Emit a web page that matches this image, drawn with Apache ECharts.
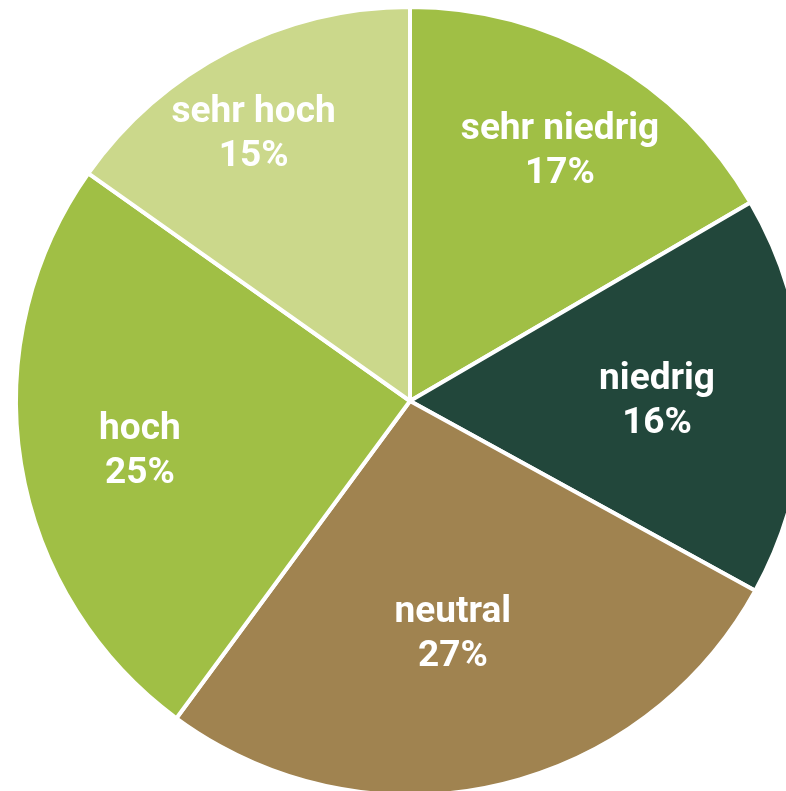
<!DOCTYPE html>
<html>
<head>
<meta charset="utf-8">
<script src="https://cdn.jsdelivr.net/npm/echarts@6/dist/echarts.min.js"></script>
<style>
  html, body { margin: 0; padding: 0; background: #fff; }
  #main { width: 786px; height: 791px; }
</style>
</head>
<body>
<div id="main"></div>
<script>
// slices, clockwise from 12 o'clock
const categories = ['sehr niedrig', 'niedrig', 'neutral', 'hoch', 'sehr hoch'];
const shares = [16.6, 16.4, 27.1, 24.7, 15.2];
const colors = ['#a0bf45', '#22473b', '#a08350', '#a0bf45', '#cbd88b'];
// label placement: fraction of radius, and small turn (deg) off the slice middle
const labelFrac = [0.744, 0.627, 0.596, 0.696, 0.79];
const labelTurn = [0.9, 0.3, 1.9, -0.8, -2.8];

const cx = 410, cy = 401, R = 394;
const total = shares.reduce((a, b) => a + b, 0);

var chart = echarts.init(document.getElementById('main'));

var option = {
  animation: false,
  series: [{
    type: 'pie',
    center: [cx, cy],
    radius: R,
    startAngle: 90,
    clockwise: true,
    itemStyle: { borderColor: '#fff', borderWidth: 4 },
    label: {
      show: true,
      position: 'inside',
      color: '#fff',
      fontFamily: 'Roboto',
      fontWeight: 'bold',
      fontSize: 37,
      lineHeight: 44,
      formatter: p => p.name + '\n' + Math.round(p.value / total * 100) + '%'
    },
    labelLine: { show: false },
    emphasis: { disabled: true },
    labelLayout: function (params) {
      const i = params.dataIndex;
      let cum = 0;
      for (let k = 0; k < i; k++) cum += shares[k];
      const a = (cum + shares[i] / 2) / total * 2 * Math.PI + labelTurn[i] * Math.PI / 180;
      return {
        x: cx + labelFrac[i] * R * Math.sin(a),
        y: cy - labelFrac[i] * R * Math.cos(a) + 3,
        align: 'center',
        verticalAlign: 'middle'
      };
    },
    data: categories.map((c, i) => ({ name: c, value: shares[i], itemStyle: { color: colors[i] } }))
  }]
};

chart.setOption(option);
</script>
</body>
</html>
